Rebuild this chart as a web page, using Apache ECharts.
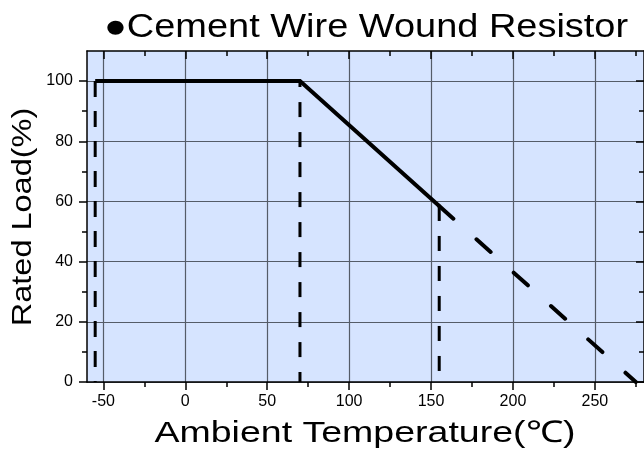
<!DOCTYPE html>
<html>
<head>
<meta charset="utf-8">
<script src="https://cdn.jsdelivr.net/npm/echarts@6/dist/echarts.min.js"></script>
<style>html,body{margin:0;padding:0;background:#fff}#c{width:644px;height:455px}</style>
</head>
<body>
<div id="c"></div>
<script>
// ---- data ----
const chartTitle = '●Cement Wire Wound Resistor';
const xAxisTitle = 'Ambient Temperature(℃)';
const yAxisTitle = 'Rated Load(%)';
const xMajorTicks = [-50, 0, 50, 100, 150, 200, 250];
const xMinorTicks = [-25, 25, 75, 125, 175, 225, 275];
const yMajorTicks = [0, 20, 40, 60, 80, 100];
const yMinorTicks = [10, 30, 50, 70, 90];
const xRange = [-60, 280];
const yRange = [0, 110];
// derating curve (temperature °C, rated load %)
const deratingSolid = [[-55, 100], [70, 100], [155, 58.5]];
const deratingExtended = [[155, 58.5], [275, 0]];
// vertical guide lines
const guideMinus55 = [[-55, 100], [-55, 0]];
const guide70 = [[70, 100], [70, 0]];
const guide155 = [[155, 58.5], [155, 0]];

const FONT = '"Liberation Sans", Arial, sans-serif';
const chart = echarts.init(document.getElementById('c'), null, {renderer: 'canvas'});

const axisLineStyle = {color: '#000', width: 1.5};
function xAx(pos, ticks, len, inside, withLine, withLabel, withSplit) {
  return {
    type: 'value', min: xRange[0], max: xRange[1], position: pos,
    axisLine: {show: withLine, onZero: false, lineStyle: axisLineStyle},
    axisTick: {show: true, customValues: ticks, length: len, inside: inside, lineStyle: {color: '#000', width: 1.5}},
    axisLabel: {show: withLabel, customValues: ticks, fontSize: 16, fontFamily: FONT, color: '#000', margin: 12},
    splitLine: {show: withSplit, lineStyle: {color: '#555c68', width: 1.2}},
    minorTick: {show: false}
  };
}
function yAx(pos, ticks, len, inside, withLine, withLabel, withSplit) {
  return {
    type: 'value', min: yRange[0], max: yRange[1], position: pos,
    axisLine: {show: withLine, onZero: false, lineStyle: axisLineStyle},
    axisTick: {show: true, customValues: ticks, length: len, inside: inside, lineStyle: {color: '#000', width: 1.5}},
    axisLabel: {show: withLabel, customValues: ticks, fontSize: 16, fontFamily: FONT, color: '#000', margin: 14},
    splitLine: {show: withSplit, lineStyle: {color: '#555c68', width: 1.2}},
    minorTick: {show: false}
  };
}

const option = {
  animation: false,
  backgroundColor: '#fff',
  grid: {left: 87, right: 0, top: 51, bottom: 73, show: true, backgroundColor: '#D6E4FF', borderWidth: 0},
  xAxis: [
    xAx('bottom', xMajorTicks, 8, false, true, true, true),
    xAx('bottom', xMinorTicks, 5, false, false, false, false),
    xAx('top', xMajorTicks, 8, true, true, false, false),
    xAx('top', xMinorTicks, 5, true, false, false, false)
  ],
  yAxis: [
    yAx('left', yMajorTicks, 8, false, true, true, true),
    yAx('left', yMinorTicks, 5, false, false, false, false),
    yAx('right', yMajorTicks, 8, true, true, false, false),
    yAx('right', yMinorTicks, 5, true, false, false, false)
  ],
  graphic: [
    {type: 'text', x: 366, y: 28, scaleX: 1.15,
     style: {text: chartTitle, font: '33px ' + FONT, fill: '#000', align: 'center', verticalAlign: 'middle'}},
    {type: 'text', x: 365, y: 434, scaleX: 1.25,
     style: {text: xAxisTitle, font: '30px ' + FONT, fill: '#000', align: 'center', verticalAlign: 'middle'}},
    {type: 'text', x: 23, y: 217, rotation: Math.PI / 2, scaleX: 1.16,
     style: {text: yAxisTitle, font: '28px ' + FONT, fill: '#000', align: 'center', verticalAlign: 'middle'}}
  ],
  series: [
    {type: 'line', data: guideMinus55, symbol: 'none', silent: true,
     lineStyle: {color: '#000', width: 3, type: [16, 14], dashOffset: 0, cap: 'butt'}},
    {type: 'line', data: guide70, symbol: 'none', silent: true,
     lineStyle: {color: '#000', width: 3, type: [15, 15], dashOffset: 9, cap: 'butt'}},
    {type: 'line', data: guide155, symbol: 'none', silent: true,
     lineStyle: {color: '#000', width: 3, type: [15, 15], dashOffset: 0, cap: 'butt'}},
    {type: 'line', data: deratingSolid, symbol: 'none', silent: true,
     lineStyle: {color: '#000', width: 4, type: 'solid', cap: 'butt', join: 'miter'}},
    {type: 'line', data: deratingExtended, symbol: 'none', silent: true,
     lineStyle: {color: '#000', width: 4, type: [19, 31], cap: 'round'}}
  ]
};
chart.setOption(option);
</script>
</body>
</html>
